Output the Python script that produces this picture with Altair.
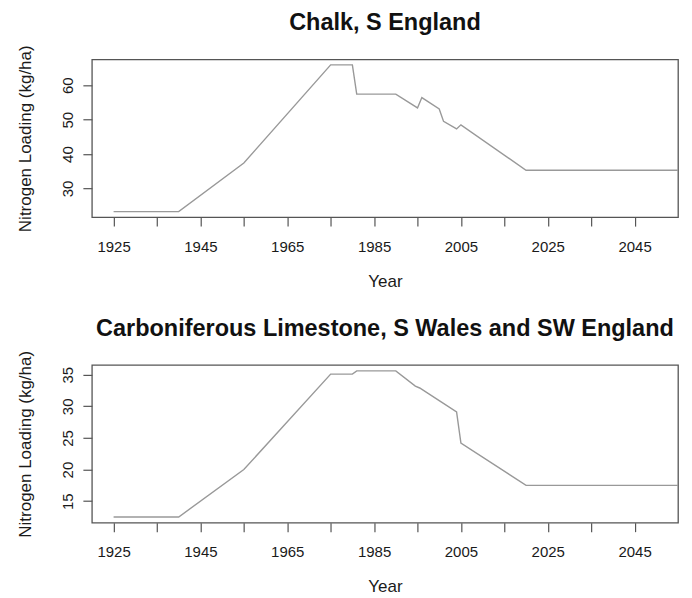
import altair as alt
import pandas as pd

# Chalk, S England
chalk_years = [1925, 1940, 1955, 1975, 1980, 1981, 1990, 1995, 1996, 2000, 2001, 2004, 2005, 2020, 2055]
chalk_vals = [23.3, 23.3, 37.4, 65.9, 65.9, 57.4, 57.4, 53.4, 56.4, 53.1, 49.5, 47.3, 48.5, 35.3, 35.3]

# Carboniferous Limestone, S Wales and SW England
lime_years = [1925, 1940, 1955, 1975, 1980, 1981, 1990, 1994.5, 1995.5, 2000, 2004, 2005, 2020, 2055]
lime_vals = [12.5, 12.5, 20.0, 35.1, 35.1, 35.6, 35.6, 33.2, 32.9, 30.9, 29.1, 24.2, 17.5, 17.5]

x_ticks = [1925, 1935, 1945, 1955, 1965, 1975, 1985, 1995, 2005, 2015, 2025, 2035, 2045]
chalk_yticks = [30, 40, 50, 60]
lime_yticks = [15, 20, 25, 30, 35]

FONT = "Liberation Sans"
AX = "#555555"
TXT = "#1a1a1a"


def panel(years, vals, title, ydomain, yticks):
    df = pd.DataFrame({"Year": years, "N": vals})
    x = alt.X(
        "Year:Q",
        scale=alt.Scale(domain=[1920, 2055], nice=False, zero=False),
        axis=alt.Axis(
            values=x_ticks,
            format="d",
            labelExpr="(datum.value - 1925) % 20 == 0 ? datum.label : ''",
            title="Year",
            grid=False,
            domain=False,
            tickSize=9,
            tickColor=AX,
            tickWidth=1.2,
            labelFontSize=15,
            labelFont=FONT,
            labelColor=TXT,
            labelBaseline="top",
            labelPadding=13,
            labelOverlap=False,
            labelFlush=False,
            titleFontSize=17,
            titleFont=FONT,
            titleFontWeight="normal",
            titleColor=TXT,
            titleBaseline="top",
            titlePadding=19,
        ),
    )
    y = alt.Y(
        "N:Q",
        scale=alt.Scale(domain=ydomain, nice=False, zero=False),
        axis=alt.Axis(
            values=yticks,
            title="Nitrogen Loading (kg/ha)",
            grid=False,
            domain=False,
            tickSize=9,
            tickColor=AX,
            tickWidth=1.2,
            labelAngle=270,
            labelAlign="center",
            labelBaseline="bottom",
            labelFontSize=15,
            labelFont=FONT,
            labelColor=TXT,
            labelPadding=7,
            titleFontSize=17,
            titleFont=FONT,
            titleFontWeight="normal",
            titleColor=TXT,
            titlePadding=26,
        ),
    )
    return (
        alt.Chart(df)
        .mark_line(color="#999999", strokeWidth=1.4, clip=True)
        .encode(x=x, y=y)
        .properties(
            width=587,
            height=158,
            title=alt.TitleParams(
                title,
                font=FONT,
                fontSize=23.5,
                fontWeight="bold",
                color="#111111",
                frame="group",
                anchor="middle",
                offset=10,
            ),
        )
    )


top = panel(chalk_years, chalk_vals, "Chalk, S England", [21.7, 67.5], chalk_yticks)
bottom = panel(lime_years, lime_vals, "Carboniferous Limestone, S Wales and SW England", [11.6, 36.55], lime_yticks)

chart = (
    alt.vconcat(top, bottom, spacing=26)
    .properties(padding={"left": 8, "top": 2, "right": 5, "bottom": 0}, background="white")
    .configure_view(stroke=AX, strokeWidth=1.3)
)

chart.save("out.html", embed_options={"renderer": "svg", "actions": False})
